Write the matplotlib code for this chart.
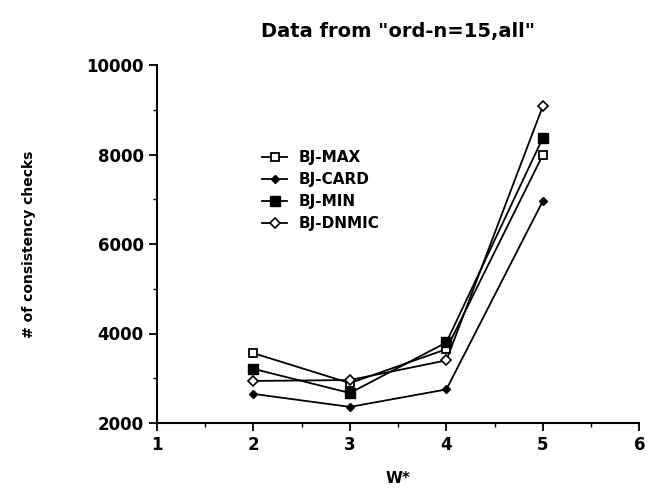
import matplotlib
matplotlib.use('Agg')
import matplotlib.pyplot as plt
from matplotlib.ticker import MultipleLocator

# valores
w = [2, 3, 4, 5]
bj_max = [3560, 2890, 3650, 7990]
bj_card = [2650, 2360, 2750, 6960]
bj_min = [3210, 2670, 3800, 8370]
bj_dnmic = [2940, 2960, 3400, 9080]

fig = plt.figure(figsize=(6.49, 5.0), dpi=100)
ax = fig.add_axes([0.242, 0.154, 0.743, 0.716])

ax.plot(w, bj_max, color='black', lw=1.3, marker='s', ms=6, mfc='white', mec='black', mew=1.3, label='BJ-MAX')
ax.plot(w, bj_card, color='black', lw=1.3, marker='D', ms=4, mfc='black', mec='black', label='BJ-CARD')
ax.plot(w, bj_min, color='black', lw=1.3, marker='s', ms=7, mfc='black', mec='black', label='BJ-MIN')
ax.plot(w, bj_dnmic, color='black', lw=1.3, marker='D', ms=5, mfc='white', mec='black', mew=1.2, label='BJ-DNMIC')

ax.set_xlim(1, 6)
ax.set_ylim(2000, 10000)
ax.xaxis.set_major_locator(MultipleLocator(1))
ax.xaxis.set_minor_locator(MultipleLocator(0.5))
ax.yaxis.set_major_locator(MultipleLocator(2000))
ax.yaxis.set_minor_locator(MultipleLocator(1000))

for s in ['top', 'right']:
    ax.spines[s].set_visible(False)
ax.spines['left'].set_linewidth(1.5)
ax.spines['bottom'].set_linewidth(1.5)
ax.tick_params(which='major', length=6, width=1.3, labelsize=12)
ax.tick_params(which='minor', length=3, width=1.0)
for lbl in ax.get_xticklabels() + ax.get_yticklabels():
    lbl.set_fontweight('bold')

ax.set_title('Data from "ord-n=15,all"', fontsize=14, fontweight='bold', pad=20)
ax.set_xlabel('W*', fontsize=11, fontweight='bold', labelpad=12)
ax.set_ylabel('# of consistency checks', fontsize=10, fontweight='bold', labelpad=36)

leg = ax.legend(loc='upper left', bbox_to_anchor=(0.19, 0.80), frameon=False,
                prop={'size': 11, 'weight': 'bold'},
                handlelength=1.6, labelspacing=0.45, handletextpad=0.8)

plt.savefig('out.png', dpi=100, facecolor='white')
plt.close()
